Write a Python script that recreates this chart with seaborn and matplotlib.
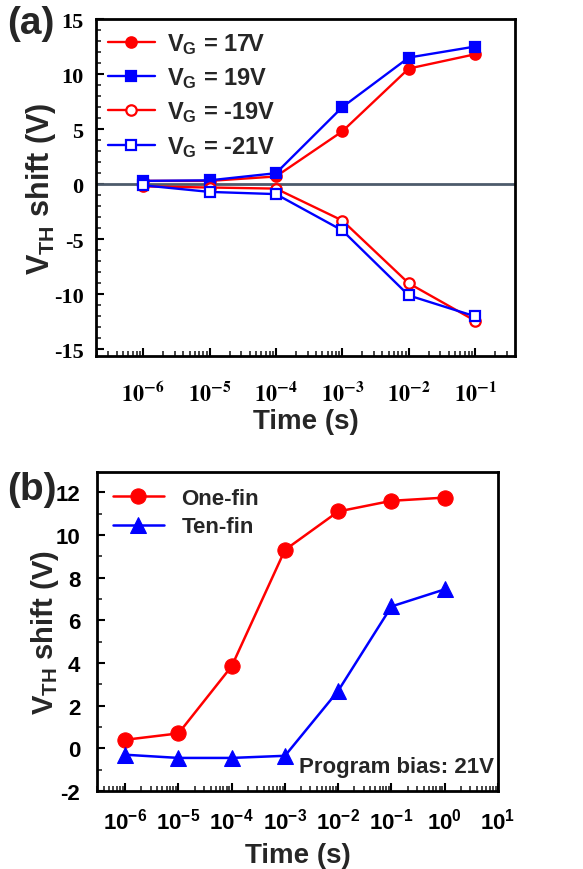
import numpy as np
import matplotlib
matplotlib.use('Agg')
import matplotlib.pyplot as plt
from matplotlib.ticker import MultipleLocator, LogLocator, NullFormatter
import seaborn as sns

# ---- panel (a) data ----
time_a = [1e-6, 1e-5, 1e-4, 1e-3, 1e-2, 1e-1]
vg_17 = [0.3, 0.3, 0.7, 4.8, 10.5, 11.8]
vg_19 = [0.3, 0.35, 1.0, 7.0, 11.5, 12.5]
vg_m19 = [-0.2, -0.3, -0.4, -3.3, -9.0, -12.4]
vg_m21 = [-0.1, -0.7, -0.9, -4.2, -10.1, -12.0]
labels_a = [r'V$_\mathbf{G}$ = 17V', r'V$_\mathbf{G}$ = 19V',
            r'V$_\mathbf{G}$ = -19V', r'V$_\mathbf{G}$ = -21V']
xticklabels_a = [r'$\mathbf{10^{-6}}$', r'$\mathbf{10^{-5}}$', r'$\mathbf{10^{-4}}$',
                 r'$\mathbf{10^{-3}}$', r'$\mathbf{10^{-2}}$', r'$\mathbf{10^{-1}}$']
yticks_a = [-15, -10, -5, 0, 5, 10, 15]

# ---- panel (b) data ----
time_b = [1e-6, 1e-5, 1e-4, 1e-3, 1e-2, 1e-1, 1e0]
one_fin = [0.4, 0.7, 3.85, 9.3, 11.1, 11.6, 11.75]
ten_fin = [-0.3, -0.45, -0.45, -0.35, 2.7, 6.65, 7.45]
labels_b = ['One-fin', 'Ten-fin']
xticks_b = [1e-6, 1e-5, 1e-4, 1e-3, 1e-2, 1e-1, 1e0, 1e1]
xticklabels_b = [r'$\mathbf{10^{-6}}$', r'$\mathbf{10^{-5}}$', r'$\mathbf{10^{-4}}$',
                 r'$\mathbf{10^{-3}}$', r'$\mathbf{10^{-2}}$', r'$\mathbf{10^{-1}}$',
                 r'$\mathbf{10^{0}}$', r'$\mathbf{10^{1}}$']
yticks_b = [-2, 0, 2, 4, 6, 8, 10, 12]

sns.set_style('ticks')
plt.rcParams['font.family'] = ['Liberation Sans', 'DejaVu Sans']
plt.rcParams['font.weight'] = 'bold'
plt.rcParams['mathtext.fontset'] = 'custom'
plt.rcParams['mathtext.rm'] = 'Liberation Sans:bold'
plt.rcParams['mathtext.bf'] = 'Liberation Sans:bold'
plt.rcParams['mathtext.it'] = 'Liberation Sans:bold'
plt.rcParams['mathtext.default'] = 'bf'

RED = '#ff0000'
BLUE = '#0000ff'

fig = plt.figure(figsize=(5.83, 8.70), dpi=100)
ax_a = fig.add_axes([96 / 583, 1 - 357 / 870, 419 / 583, 337 / 870])
ax_b = fig.add_axes([97 / 583, 1 - 792 / 870, 401 / 583, 319 / 870])

for ax in (ax_a, ax_b):
    ax.set_xscale('log')

# ---- panel (a) ----
ax_a.axhline(0, color='#4d5b6b', lw=2, zorder=1)
series_a = [(vg_17, RED, 'o', RED), (vg_19, BLUE, 's', BLUE),
            (vg_m19, RED, 'o', 'white'), (vg_m21, BLUE, 's', 'white')]
for (vals, col, mk, mfc), lab in zip(series_a, labels_a):
    sns.lineplot(x=time_a, y=vals, ax=ax_a, color=col, marker=mk, markersize=7.5,
                 markerfacecolor=mfc, markeredgecolor=col, markeredgewidth=1.6,
                 lw=1.7, label=lab, zorder=3)

ax_a.set_xlim(10 ** -6.71, 10 ** -0.4)
ax_a.set_ylim(-15.6, 15)
ax_a.set_xticks(time_a, xticklabels_a)
ax_a.set_yticks(yticks_a, [str(v) for v in yticks_a])
ax_a.yaxis.set_minor_locator(MultipleLocator(1))
for t in ax_a.get_xticklabels():
    t.set_math_fontfamily('stix')
    t.set_fontsize(16)
for t in ax_a.get_yticklabels():
    t.set_fontfamily('Liberation Serif')
    t.set_fontweight('bold')
    t.set_fontsize(16)
ax_a.tick_params(axis='x', which='major', pad=18)
ax_a.tick_params(axis='y', which='major', pad=9)
ax_a.set_xlabel('Time (s)', fontsize=20, fontweight='bold', labelpad=2)
ax_a.set_ylabel(r'V$_\mathbf{TH}$ shift (V)', fontsize=22, fontweight='bold', labelpad=-3)
ax_a.legend(loc='upper left', frameon=False, handlelength=2.0,
            labelspacing=0.4, borderaxespad=0.1, handletextpad=0.5,
            prop={'weight': 'bold', 'size': 17})

# ---- panel (b) ----
sns.lineplot(x=time_b, y=one_fin, ax=ax_b, color=RED, marker='o', markersize=11,
             markeredgecolor=RED, lw=1.8, label=labels_b[0])
sns.lineplot(x=time_b, y=ten_fin, ax=ax_b, color=BLUE, marker='^', markersize=11,
             markeredgecolor=BLUE, lw=1.8, label=labels_b[1])
ax_b.set_xlim(10 ** -6.53, 10 ** 1.0)
ax_b.set_ylim(-2, 12.95)
ax_b.set_xticks(xticks_b, xticklabels_b)
ax_b.set_yticks(yticks_b, [str(v) for v in yticks_b])
ax_b.yaxis.set_minor_locator(MultipleLocator(1))
ax_b.tick_params(axis='both', labelsize=16)
ax_b.tick_params(axis='x', which='major', pad=12)
ax_b.tick_params(axis='y', which='major', pad=12)
ax_b.set_xlabel('Time (s)', fontsize=20, fontweight='bold', labelpad=6)
ax_b.set_ylabel(r'V$_\mathbf{TH}$ shift (V)', fontsize=21, fontweight='bold', labelpad=-4)
ax_b.legend(loc='upper left', frameon=False, handlelength=2.3,
            labelspacing=0.35, borderaxespad=0.3, handletextpad=0.8,
            prop={'weight': 'bold', 'size': 16})
ax_b.text(0.99, 0.045, 'Program bias: 21V', transform=ax_b.transAxes,
          ha='right', va='bottom', fontsize=16, fontweight='bold')

for ax in (ax_a, ax_b):
    ax.xaxis.set_minor_locator(LogLocator(base=10, subs=np.arange(2, 10), numticks=20))
    ax.xaxis.set_minor_formatter(NullFormatter())
    ax.tick_params(which='major', direction='in', length=6, width=1.5, colors='black')
    ax.tick_params(which='minor', direction='in', length=3.5, width=1.2)
    for sp in ax.spines.values():
        sp.set_linewidth(2)
        sp.set_color('black')

fig.text(0.012, 0.972, '(a)', fontsize=28, fontweight='bold', va='center')
fig.text(0.012, 0.437, '(b)', fontsize=28, fontweight='bold', va='center')

fig.savefig('out.png', dpi=100)
